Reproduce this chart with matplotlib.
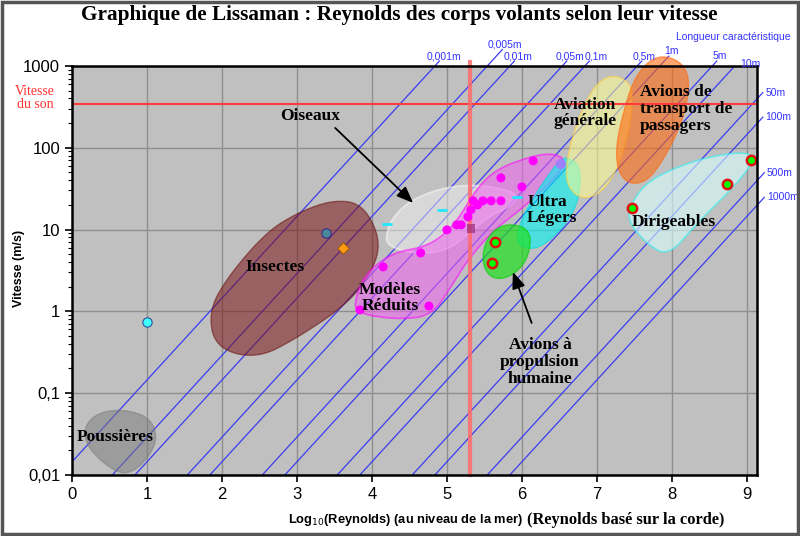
import numpy as np
import matplotlib
matplotlib.use('Agg')
import matplotlib.pyplot as plt
from matplotlib.patches import Polygon, Rectangle
from matplotlib.ticker import FixedLocator, LogLocator, NullFormatter

# ---------------- data ----------------
lengths = [0.001, 0.005, 0.01, 0.05, 0.1, 0.5, 1, 5, 10, 50, 100, 500, 1000]
length_labels = ['0,001m', '0,005m', '0,01m', '0,05m', '0,1m', '0,5m', '1m',
                 '5m', '10m', '50m', '100m', '500m', '1000m']
re_offset = 4.84          # log10(1/nu) at sea level
sound_speed = 340.0
re_marker = 5.31

y_ticks = [0.01, 0.1, 1, 10, 100, 1000]
y_ticklabels = ['0,01', '0,1', '1', '10', '100', '1000']
x_ticks = [0, 1, 2, 3, 4, 5, 6, 7, 8, 9]

# single points
dust_pt_x, dust_pt_v = [1.0], [0.74]
insect1_x, insect1_v = [3.39], [9.1]
insect2_x, insect2_v = [3.61], [5.96]
model_x = [3.84, 4.15, 4.65, 4.76, 5.00, 5.13, 5.19, 5.28, 5.32, 5.35, 5.41,
           5.48, 5.59, 5.72, 5.72, 6.00, 6.15]
model_v = [1.04, 3.49, 5.18, 1.16, 9.9, 11.4, 11.4, 14.3, 17.4, 22.4, 20.0,
           22.4, 22.4, 22.4, 42.8, 33.2, 69.1]
square_x, square_v = [5.32], [10.2]
violet_x, violet_v = [6.52], [63.4]
hpa_x, hpa_v = [5.64, 5.60], [7.05, 3.91]
airship_x, airship_v = [7.47, 8.73, 9.05], [18.4, 36.1, 71.0]
bird_x, bird_v = [4.20, 4.93, 5.93], [11.7, 17.4, 25.0]

# group outlines (x = log10 Re, y = log10 V)
dust_outline = [(0.17, -1.39), (0.37, -1.23), (0.71, -1.20), (1.04, -1.30),
                (1.14, -1.54), (1.04, -1.76), (0.84, -1.95), (0.64, -1.99),
                (0.37, -1.82), (0.18, -1.61)]
insect_outline = [(3.86, 1.32), (4.10, 0.93), (4.06, 0.58), (3.72, 0.12),
                  (3.00, -0.33), (2.46, -0.58), (1.92, -0.45), (1.82, -0.02),
                  (2.05, 0.39), (2.59, 0.97), (3.04, 1.22), (3.48, 1.36)]
model_outline = [(3.78, -0.02), (4.31, -0.10), (4.79, -0.06), (5.05, 0.29),
                 (5.27, 0.62), (5.62, 0.99), (6.02, 1.27), (6.38, 1.57),
                 (6.56, 1.77), (6.56, 1.87), (6.41, 1.93), (6.14, 1.90),
                 (5.66, 1.74), (5.39, 1.49), (5.20, 1.20), (5.03, 0.99),
                 (4.73, 0.79), (4.28, 0.72), (3.92, 0.47), (3.78, 0.17)]
bird_outline = [(4.19, 0.93), (4.26, 1.13), (4.50, 1.35), (4.90, 1.50),
                (5.31, 1.55), (5.71, 1.51), (5.96, 1.42), (5.85, 1.28),
                (5.57, 1.17), (5.30, 0.96), (5.04, 0.76), (4.70, 0.70),
                (4.37, 0.74), (4.20, 0.83)]
ulm_outline = [(5.92, 0.90), (6.01, 1.16), (6.20, 1.46), (6.41, 1.74),
               (6.55, 1.89), (6.72, 1.83), (6.79, 1.69), (6.75, 1.32),
               (6.55, 1.02), (6.24, 0.77), (6.00, 0.77)]
hpa_outline = [(5.80, 1.07), (6.05, 1.03), (6.13, 0.87), (6.05, 0.59),
               (5.84, 0.42), (5.63, 0.39), (5.49, 0.52), (5.48, 0.76),
               (5.60, 0.98)]
ga_outline = [(7.27, 2.88), (7.45, 2.78), (7.48, 2.58), (7.42, 2.15),
              (7.24, 1.66), (7.00, 1.41), (6.77, 1.38), (6.60, 1.54),
              (6.59, 1.80), (6.70, 2.23), (6.90, 2.66), (7.08, 2.85)]
liner_outline = [(7.88, 3.13), (8.12, 3.05), (8.23, 2.87), (8.21, 2.58),
                 (8.11, 2.25), (7.88, 1.84), (7.67, 1.59), (7.44, 1.55),
                 (7.29, 1.69), (7.25, 1.98), (7.34, 2.39), (7.48, 2.81),
                 (7.67, 3.05)]
airship_outline = [(7.43, 1.28), (7.66, 1.58), (8.11, 1.78), (8.55, 1.90),
                   (9.00, 1.95), (9.10, 1.85), (8.87, 1.56), (8.33, 1.07),
                   (7.95, 0.67), (7.66, 0.83), (7.43, 1.08)]

# ---------------- helpers ----------------
def chaikin(pts, n=4):
    P = np.asarray(pts, float)
    for _ in range(n):
        nxt = np.roll(P, -1, axis=0)
        Q = 0.75 * P + 0.25 * nxt
        R = 0.25 * P + 0.75 * nxt
        P = np.empty((2 * len(Q), 2))
        P[0::2] = Q
        P[1::2] = R
    return P


def blob(ax, outline, fc, ec, alpha, lw=1.0, clip=True, z=2):
    P = chaikin(outline)
    xy = np.column_stack([P[:, 0], 10 ** P[:, 1]])
    poly = Polygon(xy, closed=True, facecolor=fc, edgecolor=ec, alpha=alpha,
                   lw=lw, zorder=z)
    poly.set_clip_on(clip)
    ax.add_patch(poly)


SERIF = 'Liberation Serif'
SANS = 'Liberation Sans'

# ---------------- figure ----------------
fig = plt.figure(figsize=(8.0, 5.36), dpi=100)
fig.patch.set_facecolor('white')
ax = fig.add_axes([0.09, 0.114, 0.856, 0.763])
ax.set_facecolor('#c0c0c0')
xmax = 9.133
ax.set_xlim(0, xmax)
ax.set_yscale('log')
ax.set_ylim(0.01, 1000)

ax.set_xticks(x_ticks)
ax.set_xticklabels([str(t) for t in x_ticks], fontfamily=SANS, fontsize=12)
ax.yaxis.set_major_locator(FixedLocator(y_ticks))
ax.set_yticklabels(y_ticklabels, fontfamily=SANS, fontsize=12)
ax.yaxis.set_minor_locator(LogLocator(base=10, subs=np.arange(2, 10)))
ax.yaxis.set_minor_formatter(NullFormatter())
ax.tick_params(axis='both', which='major', direction='out', length=5, width=1.2)
ax.tick_params(axis='y', which='minor', direction='out', length=3, width=0.8)
for s in ax.spines.values():
    s.set_linewidth(1.8)
    s.set_color('black')
    s.set_zorder(10)

ax.grid(True, which='major', color='#8e8e8e', lw=1.0, zorder=0)
ax.set_axisbelow(True)

# diagonal constant-length lines
for i, (L, lab) in enumerate(zip(lengths, length_labels)):
    lL = np.log10(L)
    x0 = max(0.0, lL + re_offset - 2)
    x_top = 3 + lL + re_offset
    x1 = min(xmax, x_top)
    xs = np.array([x0, x1])
    ax.plot(xs, 10 ** (xs - lL - re_offset), color='#3c3cf0', lw=0.9, zorder=1)
    ext = {'0,005m': 0.2, '1m': 0.12, '10m': 0.0}.get(lab, 0.06)
    if x_top <= xmax:
        xe = np.array([x1, x1 + ext])
        ax.plot(xe, 10 ** (xe - lL - re_offset), color='#3c3cf0', lw=0.9,
                clip_on=False, zorder=1)
        dx = {'10m': 11, '0,001m': 3, '0,01m': 3, '0,1m': 5}.get(lab, 2)
        dy = {'10m': -2}.get(lab, 0)
        ax.annotate(lab, (x1 + ext, 10 ** (x1 + ext - lL - re_offset)),
                    xytext=(dx, dy), textcoords='offset points', ha='center',
                    va='bottom', color='#3333ff', fontsize=7.5, fontfamily=SANS,
                    annotation_clip=False, zorder=12)
    else:
        ext = 0.08 if L < 300 else 0.1
        xe = np.array([x1, x1 + ext])
        ax.plot(xe, 10 ** (xe - lL - re_offset), color='#3c3cf0', lw=0.9,
                clip_on=False, zorder=1)
        ax.annotate(lab, (x1 + ext, 10 ** (x1 + ext - lL - re_offset)),
                    xytext=(2, 0), textcoords='offset points', ha='left',
                    va='center', color='#3333ff', fontsize=7.5, fontfamily=SANS,
                    annotation_clip=False, zorder=12)

fig.text(0.988, 0.931, 'Longueur caractéristique', ha='right', va='center',
         color='#3333ff', fontsize=7.5, fontfamily=SANS)

# speed of sound and reference Re lines
ax.axhline(sound_speed, color='#ff3c3c', lw=1.5, zorder=3)
ax.plot([re_marker, re_marker], [0.01, 1120], color='#ff6a6a', lw=3,
        alpha=0.85, clip_on=False, zorder=3)
fig.text(0.044, 0.818, 'Vitesse\ndu son', ha='center', va='center',
         color='#ff3030', fontsize=10, fontfamily=SERIF, linespacing=1.0)

# blobs
blob(ax, dust_outline, '#7a7a7a', '#7a7a7a', 0.5)
blob(ax, insect_outline, '#7a1414', '#6a1010', 0.55)
blob(ax, bird_outline, '#f0f0f0', 'white', 0.5, lw=1.3)
blob(ax, model_outline, '#f060f0', '#ff00ff', 0.55, lw=1.2)
blob(ax, ulm_outline, '#00f4f4', '#00e0e0', 0.6)
blob(ax, hpa_outline, '#20e020', '#10d010', 0.7)
blob(ax, ga_outline, '#ffff90', '#ffd040', 0.55, lw=1.2)
blob(ax, liner_outline, '#ff6a10', '#ff6a10', 0.6, clip=False)
blob(ax, airship_outline, '#d8ffff', '#30f0f0', 0.6, lw=1.2)

# points
ax.scatter(dust_pt_x, dust_pt_v, s=45, c='#40ffff', edgecolors='#3050a0',
           lw=0.8, zorder=5)
ax.scatter(insect1_x, insect1_v, s=45, c='#4c8898', edgecolors='#303090',
           lw=0.8, zorder=5)
ax.scatter(insect2_x, insect2_v, s=35, c='#ff9a10', edgecolors='#905010',
           marker='D', lw=0.6, zorder=5)
ax.scatter(model_x, model_v, s=42, c='#ff00ff', edgecolors='none', zorder=5)
ax.scatter(square_x, square_v, s=40, c='#a03080', marker='s', alpha=0.75,
           edgecolors='none', zorder=5)
ax.scatter(violet_x, violet_v, s=55, c='#b070ff', alpha=0.8,
           edgecolors='none', zorder=5)
ax.scatter(hpa_x, hpa_v, s=45, c='#00ff00', edgecolors='#e01010', lw=1.8,
           zorder=5)
ax.scatter(airship_x, airship_v, s=45, c='#00ff00', edgecolors='#e01010',
           lw=1.8, zorder=5)
ax.scatter(bird_x, bird_v, s=50, c='#20e8ff', marker='_', lw=2, zorder=5)

# labels
lab_kw = dict(fontfamily=SERIF, fontweight='bold', fontsize=12.5, zorder=6,
              linespacing=1.05)
ax.text(0.57, 10 ** -1.535, 'Poussières', ha='center', va='center', **lab_kw)
ax.text(2.71, 10 ** 0.543, 'Insectes', ha='center', va='center', **lab_kw)
ax.text(4.24, 10 ** 0.164, 'Modèles\nRéduits', ha='center', va='center', **lab_kw)
ax.text(3.17, 10 ** 2.389, 'Oiseaux', ha='center', va='center', **lab_kw)
ax.text(6.07, 10 ** 1.24, 'Ultra\nLégers', ha='left', va='center', **lab_kw)
ax.text(6.24, 10 ** -0.62, 'Avions à\npropulsion\nhumaine', ha='center',
        va='center', **lab_kw)
ax.text(6.84, 10 ** 2.425, 'Aviation\ngénérale', ha='center', va='center', **lab_kw)
ax.text(7.57, 10 ** 2.474, 'Avions de\ntransport de\npassagers', ha='left',
        va='center', **lab_kw)
ax.text(7.47, 10 ** 1.093, 'Dirigeables', ha='left', va='center', **lab_kw)

arrow_kw = dict(arrowstyle='-|>,head_length=1.0,head_width=0.4', color='black',
                lw=1.3, shrinkA=0, shrinkB=0)
ax.annotate('', xy=(4.55, 10 ** 1.325), xytext=(3.51, 10 ** 2.242),
            arrowprops=arrow_kw, zorder=6)
ax.annotate('', xy=(5.88, 10 ** 0.482), xytext=(6.13, 10 ** -0.142),
            arrowprops=arrow_kw, zorder=6)

# titles
fig.text(0.499, 0.972, 'Graphique de Lissaman : Reynolds des corps volants selon leur vitesse',
         ha='center', va='center', fontsize=15.3, fontweight='bold',
         fontfamily=SERIF)
fig.text(0.024, 0.50, 'Vitesse (m/s)', rotation=90, ha='center', va='center',
         fontsize=9, fontweight='bold', fontfamily=SANS)
fig.text(0.36, 0.029, 'Log$_{10}$(Reynolds) (au niveau de la mer)', ha='left',
         va='center', fontsize=9.3, fontweight='bold', fontfamily=SANS)
fig.text(0.906, 0.029, '(Reynolds basé sur la corde)', ha='right', va='center',
         fontsize=11.8, fontweight='bold', fontfamily=SERIF)

fig.patches.append(Rectangle((0.002, 0.003), 0.996, 0.994, transform=fig.transFigure,
                             fill=False, edgecolor='#555555', lw=2.5))

fig.savefig('out.png', dpi=100)
